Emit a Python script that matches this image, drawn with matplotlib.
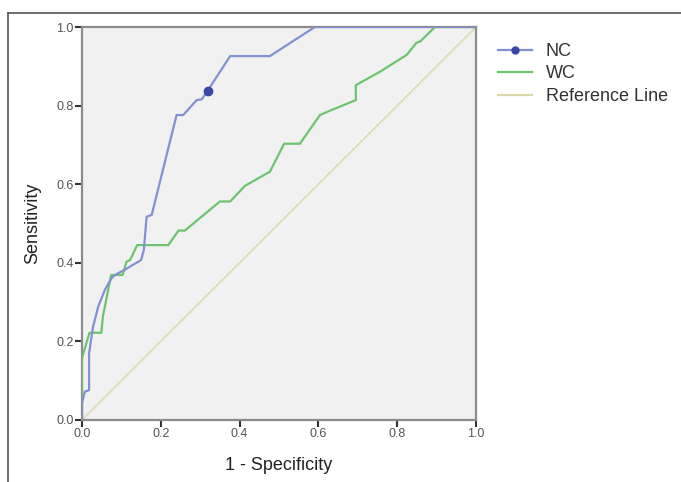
import matplotlib.pyplot as plt
from matplotlib.lines import Line2D

# ROC curve points
nc_fpr = [0, 0, 0.007, 0.018, 0.018, 0.028, 0.041, 0.058, 0.075, 0.087, 0.108,
          0.150, 0.157, 0.164, 0.177, 0.240, 0.257, 0.291, 0.304, 0.319, 0.376,
          0.477, 0.591, 1.0]
nc_tpr = [0, 0.043, 0.072, 0.076, 0.170, 0.237, 0.288, 0.331, 0.361, 0.371, 0.382,
          0.407, 0.433, 0.517, 0.522, 0.776, 0.776, 0.814, 0.816, 0.838, 0.926,
          0.926, 1.0, 1.0]
nc_cutoff = (0.319, 0.838)

wc_fpr = [0, 0, 0.019, 0.049, 0.053, 0.074, 0.103, 0.113, 0.122, 0.140, 0.219,
          0.245, 0.261, 0.350, 0.376, 0.414, 0.477, 0.513, 0.553, 0.604, 0.629,
          0.695, 0.695, 0.756, 0.824, 0.849, 0.858, 0.896, 1.0]
wc_tpr = [0, 0.158, 0.222, 0.222, 0.263, 0.369, 0.369, 0.403, 0.407, 0.445, 0.445,
          0.482, 0.482, 0.556, 0.556, 0.596, 0.632, 0.703, 0.703, 0.776, 0.787,
          0.814, 0.852, 0.886, 0.929, 0.960, 0.963, 1.0, 1.0]

ticks = [0.0, 0.2, 0.4, 0.6, 0.8, 1.0]

plt.rcParams["font.family"] = ["Liberation Sans", "DejaVu Sans"]

W, H = 681, 482
fig = plt.figure(figsize=(W / 100, H / 100), dpi=100)
ax = fig.add_axes([82 / W, 1 - 420 / H, 394 / W, 393 / H])
ax.set_facecolor("#f1f1f1")

blue, green, ref = "#8390d4", "#6cc46f", "#dcd9ab"

ax.plot([0, 1], [0, 1], color=ref, lw=1.1, zorder=2)
ax.plot(wc_fpr, wc_tpr, color=green, lw=1.6, zorder=3)
ax.plot(nc_fpr, nc_tpr, color=blue, lw=1.6, zorder=4)
ax.plot(*nc_cutoff, "o", color="#3a47a6", ms=6, zorder=5)

ax.set_xlim(0, 1)
ax.set_ylim(0, 1)
ax.set_xticks(ticks)
ax.set_yticks(ticks)
ax.set_xticklabels([f"{t:.1f}" for t in ticks])
ax.set_yticklabels([f"{t:.1f}" for t in ticks])
ax.tick_params(length=5, width=1.5, color="#333333", labelsize=9,
               labelcolor="#555555", pad=1)
for s in ax.spines.values():
    s.set_color("#8c8c8c")
    s.set_linewidth(1.6)

ax.set_xlabel("1 - Specificity", fontsize=13, color="#222222", labelpad=12)
ax.set_ylabel("Sensitivity", fontsize=13, color="#222222", labelpad=11)

handles = [
    Line2D([], [], color=blue, lw=1.6, marker="o", ms=5, markerfacecolor="#3a47a6",
           markeredgecolor="#3a47a6"),
    Line2D([], [], color=green, lw=1.6),
    Line2D([], [], color=ref, lw=1.6),
]
fig.legend(handles, ["NC", "WC", "Reference Line"], loc="upper left",
           bbox_to_anchor=(498 / W, 1 - 43 / H), frameon=False, fontsize=13,
           handlelength=1.9, handletextpad=0.75, labelspacing=0.3,
           borderpad=0, borderaxespad=0, labelcolor="#333333")

# outer frame of the original figure (top and left edges only)
fig.add_artist(Line2D([8 / W, 1], [1 - 13 / H, 1 - 13 / H], color="#555555", lw=1.2))
fig.add_artist(Line2D([8 / W, 8 / W], [0, 1 - 13 / H], color="#555555", lw=1.2))

fig.savefig("out.png", dpi=100)
